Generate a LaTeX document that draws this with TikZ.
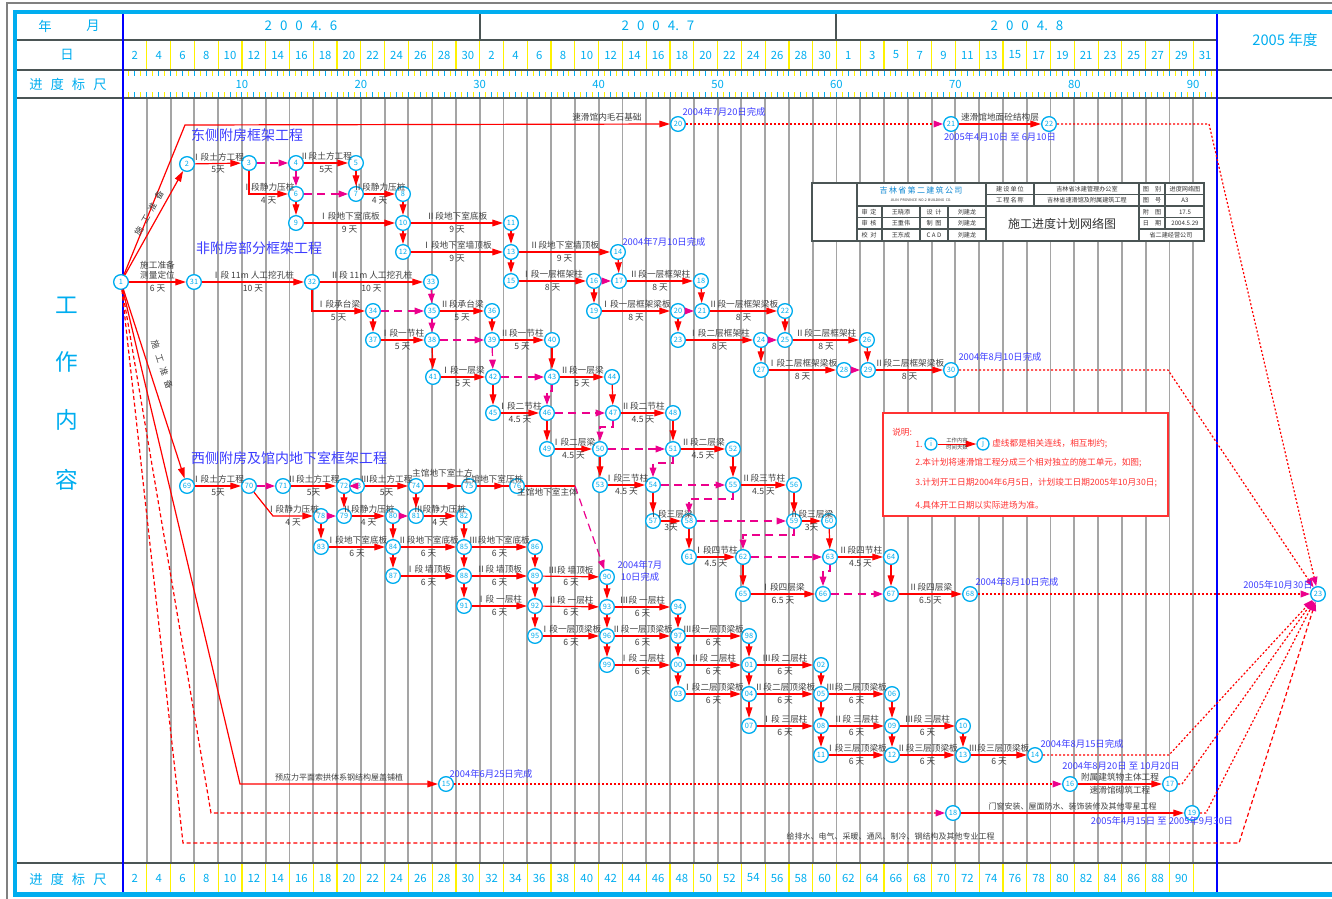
\documentclass[tikz,border=0pt]{standalone}
\usepackage{fontspec}
\setmainfont{Noto Sans CJK SC}
\usetikzlibrary{arrows.meta,positioning}
\definecolor{gridgray}{RGB}{165,165,165}
\definecolor{rulegray}{RGB}{75,85,85}
\definecolor{datblue}{RGB}{60,60,255}
\definecolor{legred}{RGB}{255,50,50}
\newcommand{\colw}{23.783}
\newcommand{\mgap}{\hspace{6pt}}

\tikzset{
  ev/.style={circle,draw=cyan,line width=1pt,fill=white,inner sep=0pt,minimum size=11pt,text=cyan,font=\fontsize{5.5}{6}\selectfont},
  act/.style={red,line width=0.9pt,-{Triangle[length=8pt,width=5pt]}},
  dum/.style={magenta,dash pattern=on 6pt off 4pt,line width=0.9pt,-{Triangle[length=7pt,width=5pt]}},
  lag/.style={red,dash pattern=on 1.5pt off 1.5pt,line width=0.9pt,-{Triangle[length=7pt,width=5pt,color=magenta]}},
  lbl/.style={text=black!75,inner sep=1.5pt,font=\fontsize{6.5}{7.5}\selectfont},
  due/.style={text=datblue,inner sep=1pt,font=\fontsize{7}{8.5}\selectfont},
  hd/.style={text=cyan,inner sep=0pt,font=\fontsize{8.5}{9}\selectfont},
  tb/.style={draw=rulegray,line width=0.8pt},
  tbt/.style={inner sep=0pt,text=black!80,font=\fontsize{4.6}{5}\selectfont},
}

\begin{document}
\begin{tikzpicture}[x=0.75pt,y=-0.75pt]
\useasboundingbox (0,0) rectangle (1332,899);

% frame
\draw[gray,line width=1.5pt] (1332,3) -| (7,899);
\fill[cyan] (13,10) rectangle (1332,14);
\fill[cyan] (13,10) rectangle (17,897);
\fill[cyan] (13,892) rectangle (1332,897);

% day columns, ruler ticks
\foreach \k in {1,...,45} {
  \draw[gridgray,line width=1.4pt] ({123+\k*\colw},98) -- ({123+\k*\colw},863);
  \draw[yellow,line width=0.9pt] ({123+\k*\colw},40) -- ({123+\k*\colw},70);
  \draw[yellow,line width=0.9pt] ({123+\k*\colw},863) -- ({123+\k*\colw},892);
}
\foreach \k in {0,2,...,184}
  \draw[cyan,line width=0.7pt] ({123+\k*5.9457},70) -- ++(0,6) ({123+\k*5.9457},98) -- ++(0,-6);
\foreach \k in {1,3,...,183}
  \draw[yellow,line width=0.7pt] ({123+\k*5.9457},70) -- ++(0,6) ({123+\k*5.9457},98) -- ++(0,-6);
\draw[rulegray,line width=1pt] (17,40) -- (1217,40) (17,70) -- (1332,70) (17,98) -- (1332,98)
  (17,863) -- (1332,863) (480,14) -- (480,40) (836,14) -- (836,40);
\draw[blue,line width=1pt] (123,14) -- (123,892) (1217,14) -- (1217,892);

% header text
\node[hd,font=\fontsize{10}{11}\selectfont] (hy) at (45,26) {年};
\node[hd,font=\fontsize{10}{11}\selectfont] (hm) at (93,26) {月};
\node[hd,font=\fontsize{10}{11}\selectfont] (hd) at (67,55) {日};
\node[hd,font=\fontsize{10}{11}\selectfont] (hr) at (68,84) {进\mgap 度\mgap 标\mgap 尺};
\node[hd,font=\fontsize{10}{11}\selectfont] (hr2) at (68,879) {进\mgap 度\mgap 标\mgap 尺};
\node[hd,font=\fontsize{10}{11}\selectfont] (m6) at (301,26) {2\mgap 0\mgap 0\mgap 4.\mgap 6};
\node[hd,font=\fontsize{10}{11}\selectfont] (m7) at (658,26) {2\mgap 0\mgap 0\mgap 4.\mgap 7};
\node[hd,font=\fontsize{10}{11}\selectfont] (m8) at (1027,26) {2\mgap 0\mgap 0\mgap 4.\mgap 8};
\node[hd,font=\fontsize{11}{12}\selectfont] (y05) at (1285,40) {2005 年度};
\foreach \k [evaluate=\k as \d using int(2*\k)] in {1,...,15}
  \node[hd] (dj\k) at ({123+(\k-0.5)*\colw},55) {\d};
\foreach \k [evaluate=\k as \d using int(2*\k)] in {1,...,15}
  \node[hd] (dk\k) at ({123+(\k+14.5)*\colw},55) {\d};
\foreach \k [evaluate=\k as \d using int(2*\k-1)] in {1,...,16}
  \node[hd] (dl\k) at ({123+(\k+29.5)*\colw},55) {\d};
\foreach \v in {10,20,...,90}
  \node[hd] (r\v) at ({123+\v*11.8915},84) {\v};
\foreach \k [evaluate=\k as \d using int(2*\k)] in {1,...,45}
  \node[hd] (b\k) at ({123+(\k-0.5)*\colw},878) {\d};
\foreach \y/\t in {305/工,362/作,420/内,480/容}
  \node[hd,font=\fontsize{17}{18}\selectfont] (w\t) at (67,\y) {\t};

% title block
\fill[white] (812,183) rectangle (1204,241);
\draw[tb] (812,183) rectangle (1204,241);
\draw[tb] (857,183) -- (857,241) (986,183) -- (986,241) (1139,183) -- (1139,241)
  (1034,183) -- (1034,206) (1165,183) -- (1165,229) (882,206) -- (882,241)
  (920,206) -- (920,241) (948,206) -- (948,241)
  (986,194.5) -- (1204,194.5) (857,206) -- (1204,206)
  (857,217.5) -- (986,217.5) (857,229) -- (986,229) (1139,217.5) -- (1204,217.5) (1139,229) -- (1204,229);
\node[tbt,text=cyan!70!blue,font=\fontsize{6}{6}\selectfont] (co) at (921,190) {吉\,林\,省\,第\,二\,建\,筑\,公\,司};
\node[tbt,font=\fontsize{2.6}{3}\selectfont] (coe) at (921,200) {JILIN\ \ PROVINCE\ \ NO.2\ \ BUILDING\ \ CO.};
\foreach \x/\y/\t [count=\i] in {1010/189/建\,设\,单\,位,1087/189/吉林省冰建管理办公室,1152/189/图\quad 别,1185/189/进度网络图,
  1010/200.5/工\,程\,名\,称,1087/200.5/吉林省速滑馆及附属建筑工程,1152/200.5/图\quad 号,1185/200.5/A3,
  869/212/审\ \ 定,901/212/王晓添,934/212/设\ \ 计,967/212/刘建龙,
  869/223.5/审\ \ 核,901/223.5/王重伟,934/223.5/制\ \ 图,967/223.5/刘建龙,
  869/235/校\ \ 对,901/235/王东成,934/235/C\ A\ D,967/235/刘建龙,
  1152/212/附\quad 图,1185/212/17.5,1152/223.5/日\quad 期,1185/223.5/2004.5.29,1171/235/省二建经营公司}
  \node[tbt] (tb\i) at (\x,\y) {\t};
\node[tbt,font=\fontsize{9}{10}\selectfont] (tbm) at (1062,223.5) {施工进度计划网络图};

% legend
\draw[legred,line width=0.9pt,fill=white] (883,413) rectangle (1168,516);
\node[lbl,text=legred,anchor=west] (lg0) at (890,432) {说明:};
\node[lbl,text=legred,anchor=west] (lg1) at (913,444) {1.};
\node[ev,minimum size=9pt] (li) at (931,444) {i};
\node[ev,minimum size=9pt] (lj) at (983,444) {j};
\draw[act,line width=0.7pt] (li) -- node[lbl,above,font=\fontsize{4}{4}\selectfont,inner sep=0.5pt]{工作内容}
  node[lbl,below,font=\fontsize{4}{4}\selectfont,inner sep=0.5pt]{时间天数} (lj);
\node[lbl,text=legred,anchor=west] (lg1t) at (990,444) {虚线都是相关连线，相互制约;};
\node[lbl,text=legred,anchor=west] (lg2) at (913,463) {2.本计划将速滑馆工程分成三个相对独立的施工单元，如图;};
\node[lbl,text=legred,anchor=west] (lg3) at (913,483) {3.计划开工日期2004年6月5日，计划竣工日期2005年10月30日;};
\node[lbl,text=legred,anchor=west] (lg4) at (913,505) {4.具体开工日期以实际进场为准。};

% events
\foreach \n/\x/\y in {1/121/282,2/187/164,3/249/163,4/296/163,5/356/163,6/296/194,7/356/194,8/403/194,
  9/296/223,10/403/223,11/511/223,12/403/252,13/511/252,14/618/252,15/511/281,16/594/281,17/619/281,
  18/701/281,19/594/311,20/678/311,21/702/311,22/785/311,23/678/340,24/761/340,25/785/340,26/867/340,
  27/761/370,28/844/370,29/868/370,30/951/370,31/194/282,32/312/282,33/431/282,34/373/311,35/432/311,
  36/492/311,37/373/340,38/432/340,39/492/340,40/552/340,41/433/377,42/493/377,43/552/377,44/612/377,
  45/493/413,46/547/413,47/613/413,48/673/413,49/547/449,50/600/449,51/673/449,52/733/449,53/600/485,
  54/653/485,55/733/485,56/794/485,57/653/521,58/689/521,59/794/521,60/829/521,61/689/557,62/743/557,
  63/830/557,64/891/557,65/743/594,66/823/594,67/891/594,68/970/594,69/187/486,70/249/486,71/283/486,
  72/344/486,73/357/486,74/416/486,75/469/486,76/517/486,78/321/516,79/344/516,80/393/516,81/416/516,
  82/464/516,83/321/547,84/393/547,85/464/547,86/535/547,87/393/576,88/464/576,89/535/576,90/607/577,
  91/464/606,92/535/606,93/607/607,94/678/607,95/535/636,96/607/636,97/678/636,98/749/636,99/607/665}
  \node[ev] (n\n) at (\x,\y) {\n};
\foreach \n/\t/\x/\y in {100/00/678/665,101/01/749/665,102/02/821/665,103/03/678/694,104/04/749/694,
  105/05/821/694,106/06/892/694,107/07/749/726,108/08/821/726,109/09/892/726,110/10/963/726,
  111/11/821/755,112/12/892/755,113/13/963/755,114/14/1035/755,115/15/446/784,116/16/1070/784,
  117/17/1170/784,118/18/953/813,119/19/1192/813,120/20/678/124,121/21/951/124,122/22/1049/124,123/23/1318/594}
  \node[ev] (n\n) at (\x,\y) {\t};

% bends and free ends
\coordinate (k1a) at (185,125);
\coordinate (k1b) at (211,813);
\coordinate (k1c) at (183,843);
\coordinate (k1d) at (1239,843);
\coordinate (k1e) at (240,784);
\coordinate (k70) at (273,516);
\coordinate (k76) at (575,486);
\coordinate (k122) at (1209,124);
\coordinate (k30) at (1168,370);
\coordinate (k114) at (1169,755);
\coordinate (k117) at (1182,784);
\coordinate (k119) at (1206,813);

% works
\foreach \a/\b/\t/\d in {2/3/Ⅰ段土方工程/5天,4/5/Ⅱ段土方工程/5天,7/8/Ⅱ段静力压桩/4 天,9/10/Ⅰ段地下室底板/9 天,
  10/11/Ⅱ段地下室底板/9 天,12/13/Ⅰ段地下室墙顶板/9 天,13/14/Ⅱ段地下室墙顶板/9 天,15/16/Ⅰ段一层框架柱/8 天,
  17/18/Ⅱ段一层框架柱/8 天,19/20/Ⅰ段一层框架梁板/8 天,21/22/Ⅱ段一层框架梁板/8 天,23/24/Ⅰ段二层框架柱/8 天,
  25/26/Ⅱ段二层框架柱/8 天,27/28/Ⅰ段二层框架梁板/8 天,29/30/Ⅱ段二层框架梁板/8 天,
  31/32/Ⅰ段 11m 人工挖孔桩/10 天,32/33/Ⅱ段 11m 人工挖孔桩/10 天,35/36/Ⅱ段承台梁/5 天,37/38/Ⅰ段一节柱/5 天,
  39/40/Ⅱ段一节柱/5 天,41/42/Ⅰ段一层梁/5 天,43/44/Ⅱ段一层梁/5 天,45/46/Ⅰ段二节柱/4.5 天,47/48/Ⅱ段二节柱/4.5 天,
  49/50/Ⅰ段二层梁/4.5 天,51/52/Ⅱ段二层梁/4.5 天,53/54/Ⅰ段三节柱/4.5 天,55/56/Ⅱ段三节柱/4.5 天,
  57/58/Ⅰ段三层梁/3天,59/60/Ⅱ段三层梁/3天,61/62/Ⅰ段四节柱/4.5 天,63/64/Ⅱ段四节柱/4.5 天,
  65/66/Ⅰ段四层梁/6.5 天,67/68/Ⅱ段四层梁/6.5 天,
  69/70/Ⅰ段土方工程/5天,71/72/Ⅱ段土方工程/5天,73/74/Ⅲ段土方工程/5天,79/80/Ⅱ段静力压桩/4 天,81/82/Ⅲ段静力压桩/4 天,
  83/84/Ⅰ段地下室底板/6 天,84/85/Ⅱ段地下室底板/6 天,85/86/Ⅲ段地下室底板/6 天,87/88/Ⅰ段 墙顶板/6 天,
  88/89/Ⅱ段 墙顶板/6 天,89/90/Ⅲ段 墙顶板/6 天,91/92/Ⅰ段 一层柱/6 天,92/93/Ⅱ段 一层柱/6 天,93/94/Ⅲ段 一层柱/6 天,
  95/96/Ⅰ段一层顶梁板/6 天,96/97/Ⅱ段一层顶梁板/6 天,97/98/Ⅲ段一层顶梁板/6 天,99/100/Ⅰ段 二层柱/6 天,
  100/101/Ⅱ段 二层柱/6 天,101/102/Ⅲ段 二层柱/6 天,103/104/Ⅰ段二层顶梁板/6 天,104/105/Ⅱ段二层顶梁板/6 天,
  105/106/Ⅲ段二层顶梁板/6 天,107/108/Ⅰ段 三层柱/6 天,108/109/Ⅱ段 三层柱/6 天,109/110/Ⅲ段 三层柱/6 天,
  111/112/Ⅰ段三层顶梁板/6 天,112/113/Ⅱ段三层顶梁板/6 天,113/114/Ⅲ段三层顶梁板/6 天,
  116/117/附属建筑物主体工程/速滑馆砌筑工程}
  \draw[act] (n\a) -- node[lbl,above]{\t} node[lbl,below]{\d} (n\b);
\foreach \a/\b in {5/7,6/9,8/10,10/12,11/13,13/15,14/17,16/19,18/21,20/23,22/25,24/27,26/29,
  34/37,36/39,38/41,40/43,42/45,44/47,46/49,48/51,50/53,52/55,54/57,56/59,58/61,60/63,62/65,64/67,
  72/79,74/81,78/83,80/84,82/85,84/87,85/88,86/89,88/91,89/92,90/93,92/95,93/96,94/97,96/99,97/100,
  98/101,100/103,101/104,102/105,104/107,105/108,106/109,108/111,109/112,110/113}
  \draw[act] (n\a) -- (n\b);
\draw[act] (n3) |- node[lbl,above,pos=0.75]{Ⅰ段静力压桩} node[lbl,below,pos=0.75]{4 天} (n6);
\draw[act] (n32) |- node[lbl,above,pos=0.75]{Ⅰ段承台梁} node[lbl,below,pos=0.75]{5 天} (n34);
\draw[act] (n70) -- (k70) -- node[lbl,above]{Ⅰ段静力压桩} node[lbl,below]{4 天} (n78);
\draw[act] (n121) -- node[lbl,above]{速滑馆地面砼结构层} (n122);
\draw[act] (n118) -- node[lbl,above,font=\fontsize{6}{7}\selectfont]{门窗安装、屋面防水、装饰装修及其他零星工程} (n119);
\draw[red,line width=0.9pt] (n74) -- node[lbl,above=5pt]{主馆地下室土方} (n75)
  (n75) -- node[lbl,above]{主馆地下室压桩} (n76);
\draw[act] (n74) -- ++(42,0);
\draw[act] (n75) -- ++(36,0);
\draw[red,line width=0.9pt] (n76) -- node[lbl,below,pos=0.45]{主馆地下室主体} (k76);

% from the start event
\draw[act] (n1) -- (n2);
\draw[act] (n1) -- (n69);
\draw[act] (n1) -- node[lbl,above,align=center]{施工准备\\测量定位} node[lbl,below]{6 天} (n31);
\draw[act] (n1) -- (k1a) -- node[lbl,above,pos=0.87]{速滑馆内毛石基础} (n120);
\draw[act] (n1) -- (k1e) -- node[lbl,above,font=\fontsize{6}{7}\selectfont]{预应力平面索拱体系钢结构屋盖铺植} (n115);
\draw[lag,dash pattern=on 3pt off 2pt] (n1) -- (k1b) -- (n118);
\draw[lag,dash pattern=on 3pt off 2pt] (n1) -- (k1c) -- node[lbl,above,pos=0.67,font=\fontsize{6}{7}\selectfont]{给排水、电气、采暖、通风、制冷、钢结构及其他专业工程} (k1d) -- (n123);
\node[lbl,rotate=61] (s1) at (149,213) {施\hspace{4pt}工\hspace{4pt}准\hspace{4pt}备};
\node[lbl,rotate=-72] (s2) at (162,365) {施\hspace{4pt}工\hspace{4pt}准\hspace{4pt}备};

% dummies
\foreach \a/\b in {3/4,4/6,6/7,16/17,20/21,24/25,28/29,33/35,34/35,35/38,38/39,39/42,42/43,46/47,
  50/51,54/55,58/59,62/63,66/67,70/71,72/73,78/79,80/81}
  \draw[dum] (n\a) -- (n\b);
\foreach \a/\b in {43/46,47/50,51/54,55/58,59/62,63/66}
  \draw[dum] (n\a) -- ++(0,14) -| (n\b);
\draw[dum] (k76) -- (n90);

% free float to the end event
\draw[lag] (n120) -- (n121);
\draw[lag] (n122) -- (k122) -- (n123);
\draw[lag] (n30) -- (k30) -- (n123);
\draw[lag] (n68) -- (n123);
\draw[lag] (n114) -- (k114) -- (n123);
\draw[lag] (n117) -- (k117) -- (n123);
\draw[lag] (n119) -- (k119) -- (n123);
\draw[lag] (n115) -- (n116);

% group titles and dates
\node[due,font=\fontsize{10.5}{11}\selectfont] (g1) at (247,135) {东侧附房框架工程};
\node[due,font=\fontsize{10.5}{11}\selectfont] (g2) at (259,248) {非附房部分框架工程};
\node[due,font=\fontsize{10.5}{11}\selectfont] (g3) at (289,458) {西侧附房及馆内地下室框架工程};
\foreach \x/\y/\t [count=\i] in {724/112/2004年7月20日完成,1000/137/2005年4月10日 至 6月10日,
  664/242/2004年7月10日完成,1000/357/2004年8月10日完成,1017/582/2004年8月10日完成,1278/585/2005年10月30日,
  1082/744/2004年8月15日完成,1121/766/2004年8月20日 至 10月20日,491/774/2004年6月25日完成,
  1162/821/2005年4月15日 至 2005年9月30日}
  \node[due] (dt\i) at (\x,\y) {\t};
\node[due,align=center] (dt0) at (640,571) {2004年7月\\10日完成};
\end{tikzpicture}
\end{document}
